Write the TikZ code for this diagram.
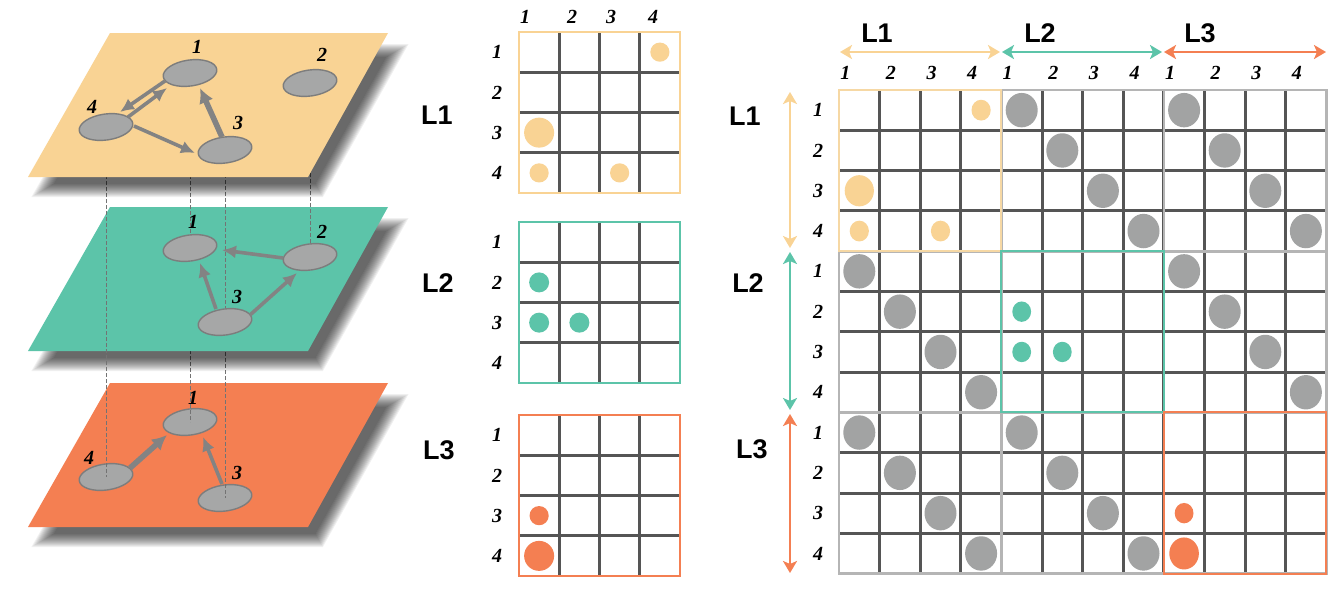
\documentclass[tikz,border=0pt]{standalone}
\usepackage{fontspec}
\setmainfont{Liberation Serif}
\newfontfamily\labfont{Liberation Sans}
\usetikzlibrary{arrows.meta,shapes.geometric,calc}
\definecolor{cyel}{HTML}{F9D394}
\definecolor{cyelb}{HTML}{F6D8A4}
\definecolor{cteal}{HTML}{5CC4A9}
\definecolor{corg}{HTML}{F47F52}
\definecolor{cdot}{HTML}{A2A3A3}
\definecolor{cgrid}{HTML}{555555}
\definecolor{clight}{HTML}{B5B5B5}
\definecolor{cnode}{HTML}{A6A7A7}
\definecolor{cnodeb}{HTML}{7D7D7D}
\definecolor{cedge}{HTML}{838383}
\pgfdeclarelayer{bg}\pgfdeclarelayer{p3}\pgfdeclarelayer{n3}\pgfdeclarelayer{v3}
\pgfdeclarelayer{p2}\pgfdeclarelayer{v2}\pgfdeclarelayer{n2}\pgfdeclarelayer{p1}
\pgfsetlayers{bg,p3,n3,v3,p2,v2,n2,p1,main}
\tikzset{
 num/.style={font=\fontsize{10}{12}\selectfont\bfseries\itshape, inner sep=0pt},
 lab/.style={font=\labfont\bfseries\fontsize{13.5}{15}\selectfont, inner sep=0pt},
 gnode/.style={ellipse, fill=cnode, draw=cnodeb, line width=0.7pt, minimum width=27pt, minimum height=13pt, inner sep=0pt, rotate=8},
 edge/.style={draw=cedge, line width=1.8pt, -{Latex[length=7pt,width=6.5pt]}},
 thickedge/.style={draw=cedge, line width=2.8pt, -{Latex[length=7.5pt,width=7.5pt]}},
 vline/.style={draw=black!55, line width=0.35pt, dash pattern=on 2pt off 1pt},
 gridline/.style={draw=cgrid, line width=1.5pt},
 bndline/.style={draw=clight, line width=1.3pt},
 blk/.style={line width=1pt},
 span/.style={line width=1.3pt, {Stealth[length=6pt,width=7pt,inset=1.5pt]}-{Stealth[length=6pt,width=7pt,inset=1.5pt]}},
}
\newcommand\drawplane[2]{%
  \foreach \e in {-8,-7,...,5} {
    \fill[black, opacity=0.06] ({122-0.58*(\e)},{49-(\e)+#1}) -- ({400+1.72*(\e)},{49-(\e)+#1}) -- ({320+0.58*(\e)},{192+(\e)+#1}) -- ({40-1.72*(\e)},{192+(\e)+#1}) -- cycle;
  }
  \fill[#2] (110,{33+#1}) -- (388,{33+#1}) -- (308,{177+#1}) -- (28,{177+#1}) -- cycle;
}
\newcommand\smallmat[2]{%
  \foreach \i in {1,2,3} {
    \draw[gridline] ({519+\i*40.25},#1) -- ++(0,161);
    \draw[gridline] (519,{#1+\i*40.25}) -- ++(161,0);
  }
  \draw[draw=#2, line width=1pt] (519,#1) rectangle ++(161,161);
}
\begin{document}
\begin{tikzpicture}[x=0.5pt,y=-0.5pt]
\begin{pgfonlayer}{bg}
\fill[white] (0,0) rectangle (1341,601);
\end{pgfonlayer}
\useasboundingbox (0,0) rectangle (1341,601);

% ---------- planes ----------
\begin{pgfonlayer}{p3}\drawplane{350}{corg}\end{pgfonlayer}
\begin{pgfonlayer}{p2}\drawplane{174}{cteal}\end{pgfonlayer}
\begin{pgfonlayer}{p1}\drawplane{0}{cyel}\end{pgfonlayer}

% ---------- layer 3 graph ----------
\begin{pgfonlayer}{n3}
\node[gnode] (c1) at (190,422) {};
\node[gnode] (c3) at (225,498) {};
\node[gnode] (c4) at (106,477) {};
\draw[thickedge] ($(c4)+(24,-9)$) -- ($(c1)+(-23,13)$);
\draw[edge] ($(c3)+(-3,-14)$) -- ($(c1)+(13,15)$);
\node[num] (c1l) at (193,398) {1};
\node[num] (c3l) at (237,473) {3};
\node[num] (c4l) at (89,458) {4};
\end{pgfonlayer}

% ---------- layer 2 graph ----------
\begin{pgfonlayer}{n2}
\node[gnode] (b1) at (190,248) {};
\node[gnode] (b2) at (310,257) {};
\node[gnode] (b3) at (225,322) {};
\draw[edge] ($(b2)+(-27,1)$) -- ($(b1)+(32,2)$);
\draw[edge] ($(b3)+(-9,-13)$) -- ($(b1)+(10,15)$);
\draw[edge] ($(b3)+(25,-7)$) -- ($(b2)+(-13,16)$);
\node[num] (b1l) at (193,222) {1};
\node[num] (b2l) at (322,232) {2};
\node[num] (b3l) at (237,297) {3};
\end{pgfonlayer}

% ---------- layer 1 graph ----------
\node[gnode] (a1) at (190,73) {};
\node[gnode] (a2) at (310,83) {};
\node[gnode] (a3) at (225,150) {};
\node[gnode] (a4) at (106,127) {};
\draw[edge] ($(a1)+(-25,8)$) -- ($(a4)+(14,-15)$);
\draw[edge] ($(a4)+(22,-10)$) -- ($(a1)+(-23,15)$);
\draw[edge] ($(a4)+(28,-1)$) -- ($(a3)+(-30,3)$);
\draw[thickedge] ($(a3)+(-3,-13)$) -- ($(a1)+(10,15)$);
\node[num] (a1l) at (197,47) {1};
\node[num] (a2l) at (322,55) {2};
\node[num] (a3l) at (238,123) {3};
\node[num] (a4l) at (92,107) {4};

% ---------- inter-layer links ----------
\begin{pgfonlayer}{v3}
\draw[vline] (b1.center) -- (c1.center);
\draw[vline] (b3.center) -- (c3.center);
\end{pgfonlayer}
\begin{pgfonlayer}{v2}
\draw[vline] (a4.center) -- (c4.center);
\draw[vline] (a1.center) -- (b1.center);
\draw[vline] (a3.center) -- (b3.center);
\draw[vline] (a2.center) -- (b2.center);
\end{pgfonlayer}

% ---------- small matrices ----------
\smallmat{32}{cyel}
\smallmat{222}{cteal}
\smallmat{415}{corg}
\node[lab] (m1) at (437,115) {L1};
\node[lab] (m2) at (438,283) {L2};
\node[lab] (m3) at (439,450) {L3};
\node[num] (mc1) at (525,17) {1};
\node[num] (mc2) at (572,17) {2};
\node[num] (mc3) at (611,17) {3};
\node[num] (mc4) at (653,17) {4};
\foreach \t/\k in {32/a,222/b,415/c} {
  \foreach \r in {1,2,3,4} {
    \node[num] (mr\k\r) at (497,{\t+(\r-0.5)*40.25}) {\r};
  }
}
% dots L1
\fill[cyel] ({519+3.5*40.25},{32+0.5*40.25}) circle[radius=4.8pt];
\fill[cyel] ({519+0.5*40.25},{32+2.5*40.25}) circle[radius=7.5pt];
\fill[cyel] ({519+0.5*40.25},{32+3.5*40.25}) circle[radius=4.8pt];
\fill[cyel] ({519+2.5*40.25},{32+3.5*40.25}) circle[radius=4.8pt];
% dots L2
\fill[cteal] ({519+0.5*40.25},{222+1.5*40.25}) circle[radius=5pt];
\fill[cteal] ({519+0.5*40.25},{222+2.5*40.25}) circle[radius=5pt];
\fill[cteal] ({519+1.5*40.25},{222+2.5*40.25}) circle[radius=5pt];
% dots L3
\fill[corg] ({519+0.5*40.25},{415+2.5*40.25}) circle[radius=4.8pt];
\fill[corg] ({519+0.5*40.25},{415+3.5*40.25}) circle[radius=7.5pt];

% ---------- big matrix ----------
\foreach \i in {1,...,11} {
  \draw[gridline] ({839+\i*40.6},90) -- ({839+\i*40.6},573.6);
  \draw[gridline] (839,{90+\i*40.3}) -- (1326.2,{90+\i*40.3});
}
\foreach \i in {4,8} {
  \draw[bndline] ({839+\i*40.6},90) -- ({839+\i*40.6},573.6);
  \draw[bndline] (839,{90+\i*40.3}) -- (1326.2,{90+\i*40.3});
}
\draw[bndline] (839,90) rectangle (1326.2,573.6);
\draw[blk, draw=cyelb] (839,90) rectangle ++(162.4,161.2);
\draw[blk, draw=cteal] (1001.4,251.2) rectangle ++(162.4,161.2);
\draw[blk, draw=corg] (1163.8,412.4) rectangle ++(162.4,161.2);
% grey dots
\foreach \r/\c in {1/5,2/6,3/7,4/8,1/9,2/10,3/11,4/12,5/1,6/2,7/3,8/4,5/9,6/10,7/11,8/12,9/1,10/2,11/3,12/4,9/5,10/6,11/7,12/8} {
  \fill[cdot] ({839+(\c-0.5)*40.6},{90+(\r-0.5)*40.3}) ellipse[x radius=8pt, y radius=8.6pt];
}
% coloured dots
\foreach \r/\c in {1/4,4/1,4/3} {
  \fill[cyel] ({839+(\c-0.5)*40.6},{90+(\r-0.5)*40.3}) ellipse[x radius=4.8pt, y radius=5.2pt];
}
\fill[cyel] ({839+0.5*40.6},{90+2.5*40.3}) ellipse[x radius=7.3pt, y radius=7.8pt];
\foreach \r/\c in {6/5,7/5,7/6} {
  \fill[cteal] ({839+(\c-0.5)*40.6},{90+(\r-0.5)*40.3}) ellipse[x radius=4.7pt, y radius=5.1pt];
}
\fill[corg] ({839+8.5*40.6},{90+10.5*40.3}) ellipse[x radius=4.7pt, y radius=5.1pt];
\fill[corg] ({839+8.5*40.6},{90+11.5*40.3}) ellipse[x radius=7.4pt, y radius=8pt];
% row labels
\foreach \r in {1,...,12} {
  \pgfmathtruncatemacro\lbl{mod(\r-1,4)+1}
  \node[num] (br\r) at (818,{90+(\r-0.5)*40.3}) {\lbl};
}
% column labels
\foreach \c in {1,...,12} {
  \pgfmathtruncatemacro\lbl{mod(\c-1,4)+1}
  \pgfmathsetmacro\off{ifthenelse(\lbl==1,14,9)}
  \node[num] (bc\c) at ({839+(\c-0.5)*40.6-\off},73) {\lbl};
}
% span arrows
\coordinate (h1a) at (840,52); \coordinate (h1b) at (1000,52);
\coordinate (h2a) at (1002,52); \coordinate (h2b) at (1162,52);
\coordinate (h3a) at (1164,52); \coordinate (h3b) at (1326,52);
\coordinate (v1a) at (790,92); \coordinate (v1b) at (790,248);
\coordinate (v2a) at (790,252); \coordinate (v2b) at (790,410);
\coordinate (v3a) at (790,414); \coordinate (v3b) at (790,573);
\draw[span, cyel] (h1a) -- (h1b);
\draw[span, cteal] (h2a) -- (h2b);
\draw[span, corg] (h3a) -- (h3b);
\draw[span, cyel] (v1a) -- (v1b);
\draw[span, cteal] (v2a) -- (v2b);
\draw[span, corg] (v3a) -- (v3b);
\node[lab] (t1) at (877,33) {L1};
\node[lab] (t2) at (1040,33) {L2};
\node[lab] (t3) at (1200,33) {L3};
\node[lab] (s1) at (745,116) {L1};
\node[lab] (s2) at (748,283) {L2};
\node[lab] (s3) at (752,449) {L3};
\end{tikzpicture}
\end{document}
